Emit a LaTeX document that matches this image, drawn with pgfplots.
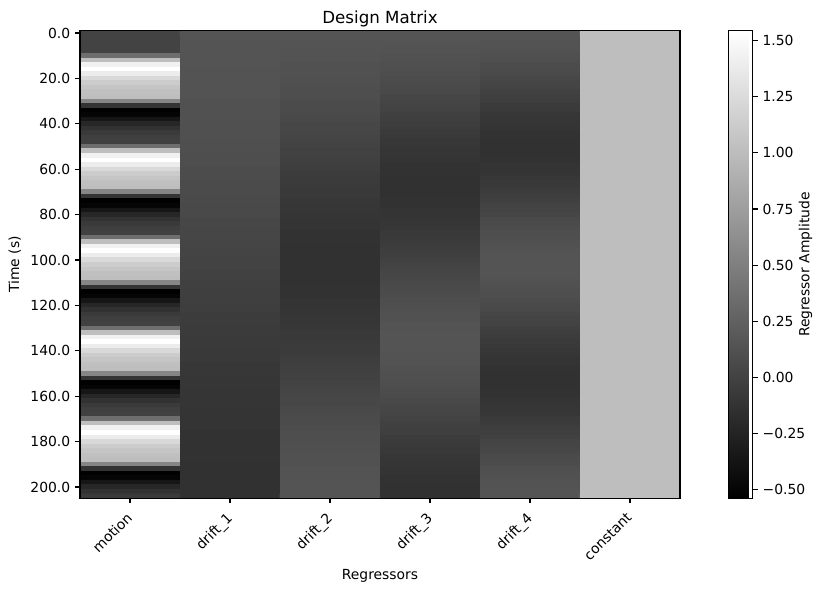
\documentclass[border=0pt]{standalone}
\usepackage{fontspec}
\setmainfont{DejaVu Sans}
\usepackage{pgfplots}
\usepackage{pgfplotstable}
\pgfplotsset{compat=1.18}

% design matrix, long format: column index, frame time (s), value
% columns: 0 motion, 1-4 drift_1..drift_4, 5 constant
\pgfplotstableread[row sep=\\]{
x t v\\
0 0 0\\ 1 0 0.14\\ 2 0 0.14\\ 3 0 0.14\\ 4 0 0.14\\ 5 0 1\\
0 2 0\\ 1 2 0.14\\ 2 2 0.14\\ 3 2 0.14\\ 4 2 0.14\\ 5 2 1\\
0 4 0\\ 1 4 0.14\\ 2 4 0.14\\ 3 4 0.14\\ 4 4 0.13\\ 5 4 1\\
0 6 0\\ 1 6 0.14\\ 2 6 0.14\\ 3 6 0.13\\ 4 6 0.13\\ 5 6 1\\
0 8 0\\ 1 8 0.14\\ 2 8 0.13\\ 3 8 0.13\\ 4 8 0.12\\ 5 8 1\\
0 10 0.35\\ 1 10 0.14\\ 2 10 0.13\\ 3 10 0.12\\ 4 10 0.11\\ 5 10 1\\
0 12 1.00\\ 1 12 0.14\\ 2 12 0.13\\ 3 12 0.12\\ 4 12 0.10\\ 5 12 1\\
0 14 1.42\\ 1 14 0.14\\ 2 14 0.12\\ 3 14 0.11\\ 4 14 0.08\\ 5 14 1\\
0 16 1.54\\ 1 16 0.13\\ 2 16 0.12\\ 3 16 0.10\\ 4 16 0.07\\ 5 16 1\\
0 18 1.38\\ 1 18 0.13\\ 2 18 0.12\\ 3 18 0.09\\ 4 18 0.06\\ 5 18 1\\
0 20 1.22\\ 1 20 0.13\\ 2 20 0.11\\ 3 20 0.08\\ 4 20 0.04\\ 5 20 1\\
0 22 1.12\\ 1 22 0.13\\ 2 22 0.11\\ 3 22 0.07\\ 4 22 0.02\\ 5 22 1\\
0 24 1.06\\ 1 24 0.13\\ 2 24 0.10\\ 3 24 0.06\\ 4 24 0.01\\ 5 24 1\\
0 26 1.02\\ 1 26 0.13\\ 2 26 0.09\\ 3 26 0.05\\ 4 26 -0.01\\ 5 26 1\\
0 28 1.00\\ 1 28 0.13\\ 2 28 0.09\\ 3 28 0.03\\ 4 28 -0.03\\ 5 28 1\\
0 30 0.55\\ 1 30 0.12\\ 2 30 0.08\\ 3 30 0.02\\ 4 30 -0.04\\ 5 30 1\\
0 32 -0.12\\ 1 32 0.12\\ 2 32 0.07\\ 3 32 0.01\\ 4 32 -0.06\\ 5 32 1\\
0 34 -0.53\\ 1 34 0.12\\ 2 34 0.07\\ 3 34 0.00\\ 4 34 -0.07\\ 5 34 1\\
0 36 -0.50\\ 1 36 0.12\\ 2 36 0.06\\ 3 36 -0.02\\ 4 36 -0.09\\ 5 36 1\\
0 38 -0.36\\ 1 38 0.12\\ 2 38 0.05\\ 3 38 -0.03\\ 4 38 -0.10\\ 5 38 1\\
0 40 -0.22\\ 1 40 0.11\\ 2 40 0.04\\ 3 40 -0.04\\ 4 40 -0.11\\ 5 40 1\\
0 42 -0.13\\ 1 42 0.11\\ 2 42 0.04\\ 3 42 -0.05\\ 4 42 -0.12\\ 5 42 1\\
0 44 -0.07\\ 1 44 0.11\\ 2 44 0.03\\ 3 44 -0.07\\ 4 44 -0.13\\ 5 44 1\\
0 46 -0.03\\ 1 46 0.11\\ 2 46 0.02\\ 3 46 -0.08\\ 4 46 -0.13\\ 5 46 1\\
0 48 -0.01\\ 1 48 0.10\\ 2 48 0.01\\ 3 48 -0.09\\ 4 48 -0.14\\ 5 48 1\\
0 50 0.35\\ 1 50 0.10\\ 2 50 0.00\\ 3 50 -0.10\\ 4 50 -0.14\\ 5 50 1\\
0 52 1.00\\ 1 52 0.10\\ 2 52 -0.01\\ 3 52 -0.11\\ 4 52 -0.14\\ 5 52 1\\
0 54 1.42\\ 1 54 0.09\\ 2 54 -0.01\\ 3 54 -0.11\\ 4 54 -0.14\\ 5 54 1\\
0 56 1.54\\ 1 56 0.09\\ 2 56 -0.02\\ 3 56 -0.12\\ 4 56 -0.13\\ 5 56 1\\
0 58 1.38\\ 1 58 0.09\\ 2 58 -0.03\\ 3 58 -0.13\\ 4 58 -0.12\\ 5 58 1\\
0 60 1.22\\ 1 60 0.08\\ 2 60 -0.04\\ 3 60 -0.13\\ 4 60 -0.12\\ 5 60 1\\
0 62 1.12\\ 1 62 0.08\\ 2 62 -0.05\\ 3 62 -0.13\\ 4 62 -0.11\\ 5 62 1\\
0 64 1.06\\ 1 64 0.08\\ 2 64 -0.06\\ 3 64 -0.14\\ 4 64 -0.09\\ 5 64 1\\
0 66 1.02\\ 1 66 0.07\\ 2 66 -0.06\\ 3 66 -0.14\\ 4 66 -0.08\\ 5 66 1\\
0 68 1.00\\ 1 68 0.07\\ 2 68 -0.07\\ 3 68 -0.14\\ 4 68 -0.07\\ 5 68 1\\
0 70 0.55\\ 1 70 0.07\\ 2 70 -0.08\\ 3 70 -0.14\\ 4 70 -0.05\\ 5 70 1\\
0 72 -0.12\\ 1 72 0.06\\ 2 72 -0.08\\ 3 72 -0.14\\ 4 72 -0.04\\ 5 72 1\\
0 74 -0.53\\ 1 74 0.06\\ 2 74 -0.09\\ 3 74 -0.13\\ 4 74 -0.02\\ 5 74 1\\
0 76 -0.50\\ 1 76 0.05\\ 2 76 -0.10\\ 3 76 -0.13\\ 4 76 0.00\\ 5 76 1\\
0 78 -0.36\\ 1 78 0.05\\ 2 78 -0.10\\ 3 78 -0.12\\ 4 78 0.01\\ 5 78 1\\
0 80 -0.22\\ 1 80 0.05\\ 2 80 -0.11\\ 3 80 -0.12\\ 4 80 0.03\\ 5 80 1\\
0 82 -0.13\\ 1 82 0.04\\ 2 82 -0.11\\ 3 82 -0.11\\ 4 82 0.05\\ 5 82 1\\
0 84 -0.07\\ 1 84 0.04\\ 2 84 -0.12\\ 3 84 -0.10\\ 4 84 0.06\\ 5 84 1\\
0 86 -0.03\\ 1 86 0.03\\ 2 86 -0.12\\ 3 86 -0.09\\ 4 86 0.08\\ 5 86 1\\
0 88 -0.01\\ 1 88 0.03\\ 2 88 -0.13\\ 3 88 -0.08\\ 4 88 0.09\\ 5 88 1\\
0 90 0.35\\ 1 90 0.03\\ 2 90 -0.13\\ 3 90 -0.07\\ 4 90 0.10\\ 5 90 1\\
0 92 1.00\\ 1 92 0.02\\ 2 92 -0.13\\ 3 92 -0.06\\ 4 92 0.11\\ 5 92 1\\
0 94 1.42\\ 1 94 0.02\\ 2 94 -0.14\\ 3 94 -0.05\\ 4 94 0.12\\ 5 94 1\\
0 96 1.54\\ 1 96 0.01\\ 2 96 -0.14\\ 3 96 -0.04\\ 4 96 0.13\\ 5 96 1\\
0 98 1.38\\ 1 98 0.01\\ 2 98 -0.14\\ 3 98 -0.03\\ 4 98 0.14\\ 5 98 1\\
0 100 1.22\\ 1 100 0.00\\ 2 100 -0.14\\ 3 100 -0.01\\ 4 100 0.14\\ 5 100 1\\
0 102 1.12\\ 1 102 0.00\\ 2 102 -0.14\\ 3 102 0.00\\ 4 102 0.14\\ 5 102 1\\
0 104 1.06\\ 1 104 0.00\\ 2 104 -0.14\\ 3 104 0.01\\ 4 104 0.14\\ 5 104 1\\
0 106 1.02\\ 1 106 -0.01\\ 2 106 -0.14\\ 3 106 0.03\\ 4 106 0.14\\ 5 106 1\\
0 108 1.00\\ 1 108 -0.01\\ 2 108 -0.14\\ 3 108 0.04\\ 4 108 0.13\\ 5 108 1\\
0 110 0.55\\ 1 110 -0.02\\ 2 110 -0.14\\ 3 110 0.05\\ 4 110 0.12\\ 5 110 1\\
0 112 -0.12\\ 1 112 -0.02\\ 2 112 -0.13\\ 3 112 0.06\\ 4 112 0.11\\ 5 112 1\\
0 114 -0.53\\ 1 114 -0.03\\ 2 114 -0.13\\ 3 114 0.07\\ 4 114 0.10\\ 5 114 1\\
0 116 -0.50\\ 1 116 -0.03\\ 2 116 -0.13\\ 3 116 0.08\\ 4 116 0.09\\ 5 116 1\\
0 118 -0.36\\ 1 118 -0.03\\ 2 118 -0.12\\ 3 118 0.09\\ 4 118 0.08\\ 5 118 1\\
0 120 -0.22\\ 1 120 -0.04\\ 2 120 -0.12\\ 3 120 0.10\\ 4 120 0.06\\ 5 120 1\\
0 122 -0.13\\ 1 122 -0.04\\ 2 122 -0.11\\ 3 122 0.11\\ 4 122 0.05\\ 5 122 1\\
0 124 -0.07\\ 1 124 -0.05\\ 2 124 -0.11\\ 3 124 0.12\\ 4 124 0.03\\ 5 124 1\\
0 126 -0.03\\ 1 126 -0.05\\ 2 126 -0.10\\ 3 126 0.12\\ 4 126 0.01\\ 5 126 1\\
0 128 -0.01\\ 1 128 -0.05\\ 2 128 -0.10\\ 3 128 0.13\\ 4 128 0.00\\ 5 128 1\\
0 130 0.35\\ 1 130 -0.06\\ 2 130 -0.09\\ 3 130 0.13\\ 4 130 -0.02\\ 5 130 1\\
0 132 1.00\\ 1 132 -0.06\\ 2 132 -0.08\\ 3 132 0.14\\ 4 132 -0.04\\ 5 132 1\\
0 134 1.42\\ 1 134 -0.07\\ 2 134 -0.08\\ 3 134 0.14\\ 4 134 -0.05\\ 5 134 1\\
0 136 1.54\\ 1 136 -0.07\\ 2 136 -0.07\\ 3 136 0.14\\ 4 136 -0.07\\ 5 136 1\\
0 138 1.38\\ 1 138 -0.07\\ 2 138 -0.06\\ 3 138 0.14\\ 4 138 -0.08\\ 5 138 1\\
0 140 1.22\\ 1 140 -0.08\\ 2 140 -0.06\\ 3 140 0.14\\ 4 140 -0.09\\ 5 140 1\\
0 142 1.12\\ 1 142 -0.08\\ 2 142 -0.05\\ 3 142 0.13\\ 4 142 -0.11\\ 5 142 1\\
0 144 1.06\\ 1 144 -0.08\\ 2 144 -0.04\\ 3 144 0.13\\ 4 144 -0.12\\ 5 144 1\\
0 146 1.02\\ 1 146 -0.09\\ 2 146 -0.03\\ 3 146 0.13\\ 4 146 -0.12\\ 5 146 1\\
0 148 1.00\\ 1 148 -0.09\\ 2 148 -0.02\\ 3 148 0.12\\ 4 148 -0.13\\ 5 148 1\\
0 150 0.55\\ 1 150 -0.09\\ 2 150 -0.01\\ 3 150 0.11\\ 4 150 -0.14\\ 5 150 1\\
0 152 -0.12\\ 1 152 -0.10\\ 2 152 -0.01\\ 3 152 0.11\\ 4 152 -0.14\\ 5 152 1\\
0 154 -0.53\\ 1 154 -0.10\\ 2 154 0.00\\ 3 154 0.10\\ 4 154 -0.14\\ 5 154 1\\
0 156 -0.50\\ 1 156 -0.10\\ 2 156 0.01\\ 3 156 0.09\\ 4 156 -0.14\\ 5 156 1\\
0 158 -0.36\\ 1 158 -0.11\\ 2 158 0.02\\ 3 158 0.08\\ 4 158 -0.13\\ 5 158 1\\
0 160 -0.22\\ 1 160 -0.11\\ 2 160 0.03\\ 3 160 0.07\\ 4 160 -0.13\\ 5 160 1\\
0 162 -0.13\\ 1 162 -0.11\\ 2 162 0.04\\ 3 162 0.05\\ 4 162 -0.12\\ 5 162 1\\
0 164 -0.07\\ 1 164 -0.11\\ 2 164 0.04\\ 3 164 0.04\\ 4 164 -0.11\\ 5 164 1\\
0 166 -0.03\\ 1 166 -0.12\\ 2 166 0.05\\ 3 166 0.03\\ 4 166 -0.10\\ 5 166 1\\
0 168 -0.01\\ 1 168 -0.12\\ 2 168 0.06\\ 3 168 0.02\\ 4 168 -0.09\\ 5 168 1\\
0 170 0.35\\ 1 170 -0.12\\ 2 170 0.07\\ 3 170 0.00\\ 4 170 -0.07\\ 5 170 1\\
0 172 1.00\\ 1 172 -0.12\\ 2 172 0.07\\ 3 172 -0.01\\ 4 172 -0.06\\ 5 172 1\\
0 174 1.42\\ 1 174 -0.12\\ 2 174 0.08\\ 3 174 -0.02\\ 4 174 -0.04\\ 5 174 1\\
0 176 1.54\\ 1 176 -0.13\\ 2 176 0.09\\ 3 176 -0.03\\ 4 176 -0.03\\ 5 176 1\\
0 178 1.38\\ 1 178 -0.13\\ 2 178 0.09\\ 3 178 -0.05\\ 4 178 -0.01\\ 5 178 1\\
0 180 1.22\\ 1 180 -0.13\\ 2 180 0.10\\ 3 180 -0.06\\ 4 180 0.01\\ 5 180 1\\
0 182 1.12\\ 1 182 -0.13\\ 2 182 0.11\\ 3 182 -0.07\\ 4 182 0.02\\ 5 182 1\\
0 184 1.06\\ 1 184 -0.13\\ 2 184 0.11\\ 3 184 -0.08\\ 4 184 0.04\\ 5 184 1\\
0 186 1.02\\ 1 186 -0.13\\ 2 186 0.12\\ 3 186 -0.09\\ 4 186 0.06\\ 5 186 1\\
0 188 1.00\\ 1 188 -0.13\\ 2 188 0.12\\ 3 188 -0.10\\ 4 188 0.07\\ 5 188 1\\
0 190 0.55\\ 1 190 -0.14\\ 2 190 0.12\\ 3 190 -0.11\\ 4 190 0.08\\ 5 190 1\\
0 192 -0.12\\ 1 192 -0.14\\ 2 192 0.13\\ 3 192 -0.12\\ 4 192 0.10\\ 5 192 1\\
0 194 -0.53\\ 1 194 -0.14\\ 2 194 0.13\\ 3 194 -0.12\\ 4 194 0.11\\ 5 194 1\\
0 196 -0.50\\ 1 196 -0.14\\ 2 196 0.13\\ 3 196 -0.13\\ 4 196 0.12\\ 5 196 1\\
0 198 -0.36\\ 1 198 -0.14\\ 2 198 0.14\\ 3 198 -0.13\\ 4 198 0.13\\ 5 198 1\\
0 200 -0.22\\ 1 200 -0.14\\ 2 200 0.14\\ 3 200 -0.14\\ 4 200 0.13\\ 5 200 1\\
0 202 -0.13\\ 1 202 -0.14\\ 2 202 0.14\\ 3 202 -0.14\\ 4 202 0.14\\ 5 202 1\\
0 204 -0.07\\ 1 204 -0.14\\ 2 204 0.14\\ 3 204 -0.14\\ 4 204 0.14\\ 5 204 1\\
}\designmatrix

\begin{document}
\begin{tikzpicture}
\begin{axis}[
    name=dm,
    scale only axis,
    width=432pt, height=336.7pt,
    xmin=-0.5, xmax=5.5,
    ymin=-1, ymax=205,
    y dir=reverse,
    axis on top,
    colormap={mplgray}{gray(0cm)=(0); gray(1cm)=(1)},
    point meta min=-0.54, point meta max=1.545,
    xtick={0,1,2,3,4,5},
    xticklabels={motion,drift\_1,drift\_2,drift\_3,drift\_4,constant},
    xticklabel style={rotate=45, anchor=north east, xshift=-3pt, yshift=1.5pt},
    ytick={0,20,...,200},
    yticklabels={0.0,20.0,40.0,60.0,80.0,100.0,120.0,140.0,160.0,180.0,200.0},
    tick align=outside, tick pos=left,
    major tick length=3.5pt,
    every tick/.style={black, line width=0.8pt},
    axis line style={line width=0.8pt},
    title={Design Matrix},
    title style={font=\fontsize{12}{14}\selectfont, yshift=-6.5pt},
    xlabel={Regressors},
    xlabel style={yshift=2.5pt},
    ylabel={Time (s)},
    colorbar,
    colorbar style={
        width=17.3pt,
        at={(parent axis.north east)}, anchor=north west, xshift=26.6pt,
        ytick={-0.5,-0.25,0,0.25,0.5,0.75,1,1.25,1.5},
        yticklabels={−0.50,−0.25,0.00,0.25,0.50,0.75,1.00,1.25,1.50},
        ytick pos=right, yticklabel pos=right,
        ylabel={Regressor Amplitude},
        ylabel shift=-11.5pt,
        major tick length=3.5pt,
        tick align=outside,
        every tick/.style={black, line width=0.8pt},
        axis line style={line width=0.8pt},
    },
]
\addplot[matrix plot*, mesh/cols=6, point meta=explicit]
    table[x=x, y=t, meta=v] {\designmatrix};
\end{axis}
\pgfresetboundingbox
\path ([xshift=-57.6pt, yshift=-66pt]dm.south west)
    rectangle ([xshift=102.2pt, yshift=22.1pt]dm.north east);
\end{tikzpicture}
\end{document}
